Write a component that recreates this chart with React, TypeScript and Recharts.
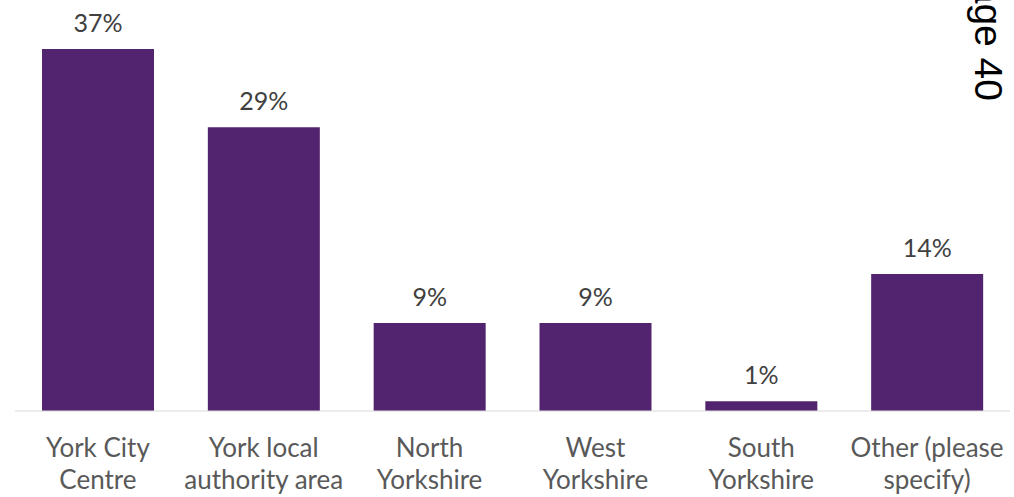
import { Bar, BarChart, LabelList, XAxis, YAxis } from "recharts";

const categories = [
  "York City\nCentre",
  "York local\nauthority area",
  "North\nYorkshire",
  "West\nYorkshire",
  "South\nYorkshire",
  "Other (please\nspecify)",
];
const shares = [37, 29, 9, 9, 1, 14];

const data = categories.map((name, i) => ({ name, value: shares[i] }));

const FONT = "Lato, 'Open Sans', sans-serif";

function CategoryTick({ x, y, payload }: any) {
  const lines = String(payload.value).split("\n");
  return (
    <text x={x} y={y} textAnchor="middle" fill="#595959" fontSize={26} fontFamily={FONT}>
      {lines.map((line, i) => (
        <tspan key={i} x={x} y={y + 46 + i * 32}>
          {line}
        </tspan>
      ))}
    </text>
  );
}

export default function App() {
  return (
    <div style={{ position: "absolute", left: 0, top: 0, width: 1014, height: 497, background: "#fff" }}>
      <BarChart
        width={1014}
        height={497}
        data={data}
        margin={{ top: 49, right: 4, bottom: 0, left: 15 }}
      >
        <XAxis
          dataKey="name"
          height={86}
          tickLine={false}
          tickSize={0}
          tickMargin={0}
          interval={0}
          stroke="#d9d9d9"
          tick={<CategoryTick />}
        />
        <YAxis hide domain={[0, 37]} />
        <Bar dataKey="value" fill="#52236f" barSize={112} isAnimationActive={false}>
          <LabelList
            dataKey="value"
            position="top"
            offset={17}
            formatter={(v: any) => `${v}%`}
            fill="#404040"
            fontSize={25}
            fontFamily={FONT}
          />
        </Bar>
      </BarChart>
      <svg width={1014} height={497} style={{ position: "absolute", left: 0, top: 0, pointerEvents: "none" }}>
        <text
          x={975}
          y={101}
          textAnchor="end"
          transform="rotate(90, 975, 101)"
          fontSize={39}
          fontFamily="'Liberation Sans', Arial, sans-serif"
          fill="#000"
        >
          Page 40
        </text>
      </svg>
    </div>
  );
}
